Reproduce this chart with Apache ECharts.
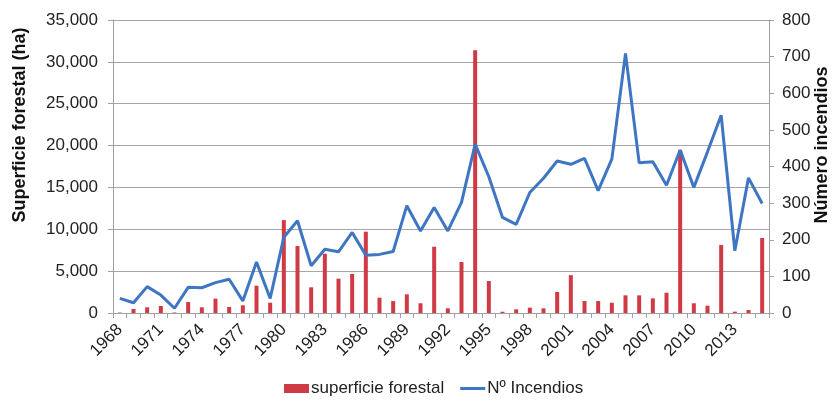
<!DOCTYPE html>
<html>
<head>
<meta charset="utf-8">
<script src="https://cdn.jsdelivr.net/npm/echarts@6/dist/echarts.min.js"></script>
<style>html,body{margin:0;padding:0;background:#fff}#c{width:832px;height:405px}</style>
</head>
<body>
<div id="c"></div>
<script>
const years = [];
for (let y = 1968; y <= 2015; y++) years.push(String(y));

const superficie = [50, 480, 680, 835, 60, 1310, 680, 1710, 720, 920,
  3260, 1230, 11100, 8000, 3070, 7080, 4100, 4660, 9710, 1830,
  1430, 2230, 1160, 7920, 560, 6090, 31400, 3820, 150, 440,
  640, 560, 2510, 4520, 1430, 1430, 1230, 2110, 2110, 1750,
  2420, 19460, 1160, 870, 8120, 160, 360, 8960];

const incendios = [40, 28, 72, 49, 13, 70, 69, 83, 92, 33,
  139, 40, 207, 252, 129, 174, 167, 220, 158, 160,
  168, 293, 224, 288, 224, 302, 461, 372, 261, 242,
  329, 368, 415, 406, 422, 334, 420, 709, 410, 413,
  349, 445, 343, 440, 540, 170, 369, 299];

const leftTicks = [0, 5000, 35000];
const rightTicks = [0, 100, 800];

const chart = echarts.init(document.getElementById('c'));
const font = 'Liberation Sans, Arial, sans-serif';
chart.setOption({
  animation: false,
  textStyle: { fontFamily: font },
  grid: { left: 113, right: 63, top: 20, bottom: 92 },
  legend: {
    bottom: 3,
    left: 279,
    itemGap: 16,
    itemWidth: 25,
    itemHeight: 9,
    textStyle: { fontSize: 17, color: '#222', fontFamily: font, padding: [0, 0, 0, -3] },
    data: [
      { name: 'superficie forestal', icon: 'rect' },
      { name: 'Nº Incendios', icon: 'path://M0,0 L20,0 L20,2.4 L0,2.4 Z' }
    ]
  },
  xAxis: {
    type: 'category',
    data: years,
    boundaryGap: true,
    axisLine: { lineStyle: { color: '#a0a0a0' } },
    axisTick: { show: true, alignWithLabel: false, interval: 0, length: 5, lineStyle: { color: '#a0a0a0' } },
    axisLabel: { interval: 2, rotate: 45, fontSize: 17, color: '#222', margin: 14, fontFamily: font }
  },
  yAxis: [
    {
      type: 'value',
      min: leftTicks[0], max: leftTicks[2], interval: leftTicks[1],
      axisLine: { show: true, lineStyle: { color: '#a0a0a0' } },
      axisTick: { show: true, length: 5, lineStyle: { color: '#a0a0a0' } },
      splitLine: { lineStyle: { color: '#a6a6a6', width: 1 } },
      axisLabel: {
        fontSize: 17, color: '#222', margin: 15, fontFamily: font,
        formatter: v => v.toLocaleString('en-US')
      }
    },
    {
      type: 'value',
      min: rightTicks[0], max: rightTicks[2], interval: rightTicks[1],
      position: 'right',
      axisLine: { show: true, lineStyle: { color: '#a0a0a0' } },
      axisTick: { show: true, length: 5, lineStyle: { color: '#a0a0a0' } },
      splitLine: { show: false },
      axisLabel: { fontSize: 17, color: '#222', margin: 13, fontFamily: font }
    }
  ],
  graphic: [
    {
      id: 'lt', type: 'text', x: 20, y: 125, rotation: Math.PI / 2,
      style: { text: 'Superficie forestal (ha)', font: 'bold 18px ' + font, fill: '#111', align: 'center', verticalAlign: 'middle' }
    },
    {
      id: 'rt', type: 'text', x: 822, y: 145, rotation: Math.PI / 2,
      style: { text: 'Número incendios', font: 'bold 18px ' + font, fill: '#111', align: 'center', verticalAlign: 'middle' }
    }
  ],
  series: [
    {
      name: 'superficie forestal',
      type: 'bar',
      yAxisIndex: 0,
      data: superficie,
      barWidth: 4,
      itemStyle: { color: '#d03a44' }
    },
    {
      name: 'Nº Incendios',
      type: 'line',
      yAxisIndex: 1,
      data: incendios,
      symbol: 'none',
      lineStyle: { color: '#3f76c4', width: 3 },
      itemStyle: { color: '#3f76c4' }
    }
  ]
});
</script>
</body>
</html>
